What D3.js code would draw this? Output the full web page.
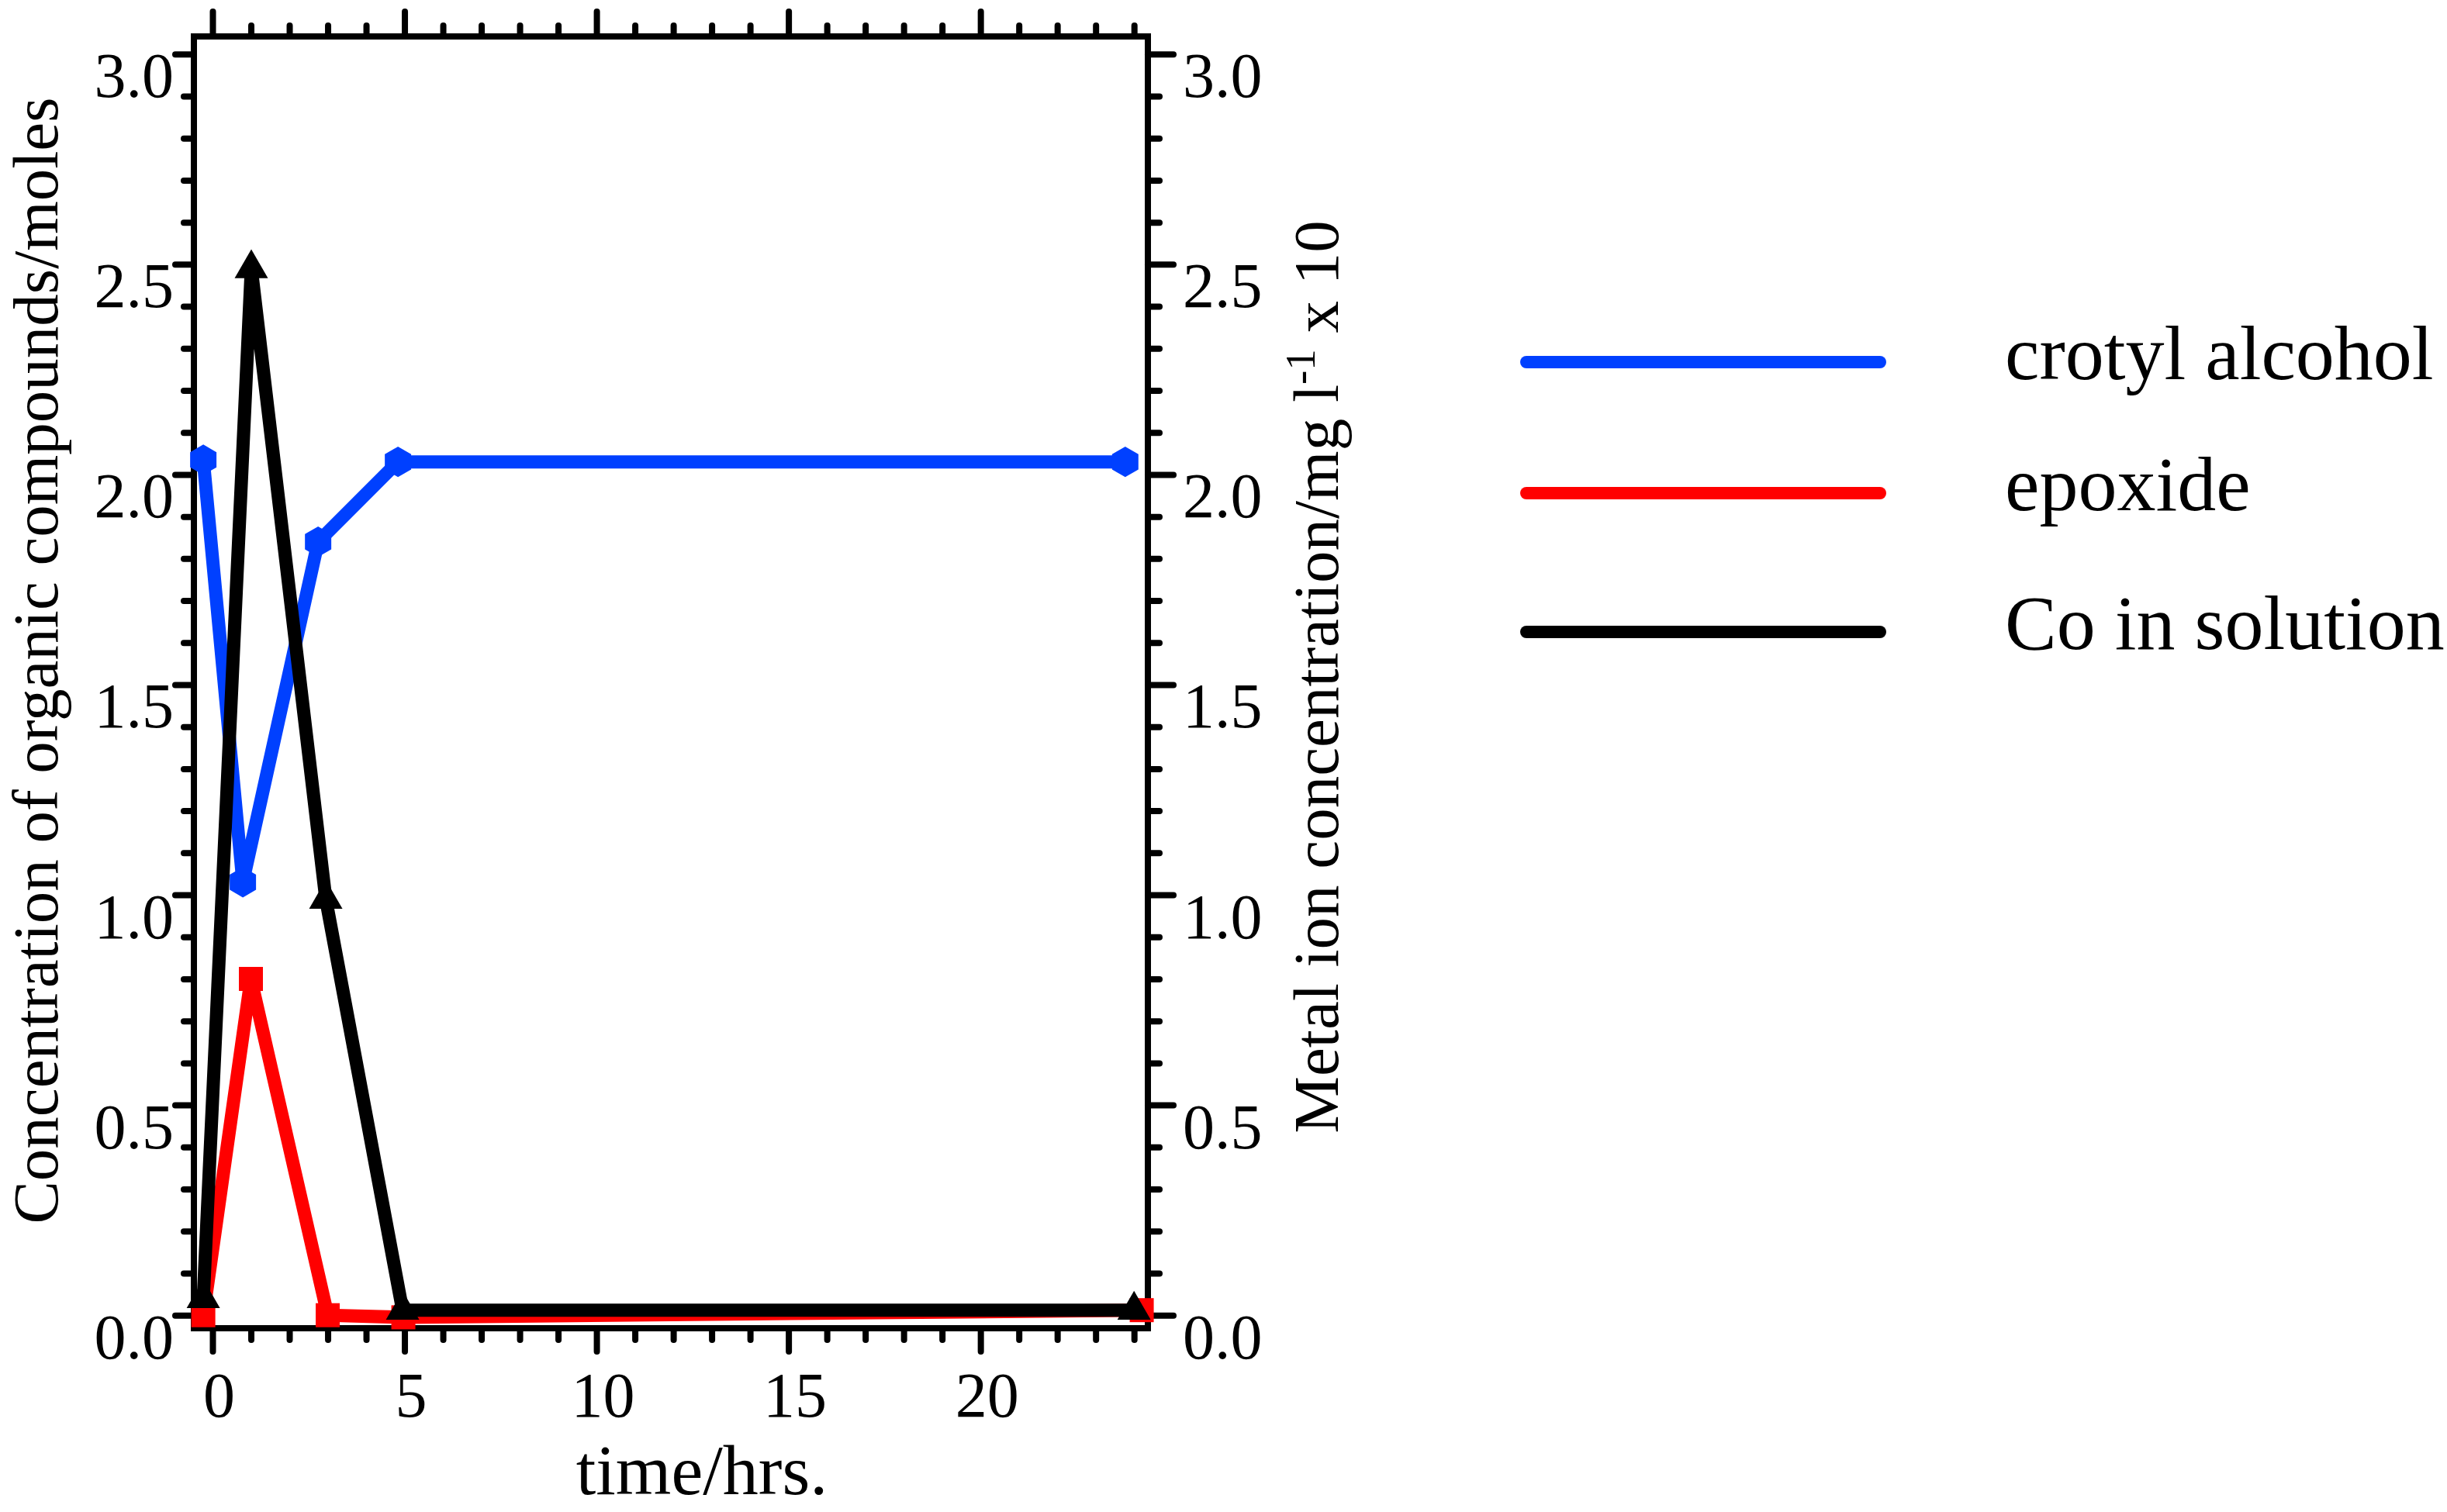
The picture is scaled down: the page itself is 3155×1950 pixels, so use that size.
<!DOCTYPE html>
<html>
<head>
<meta charset="utf-8">
<script src="https://cdn.jsdelivr.net/npm/d3@7"></script>
<style>
  body { margin: 0; background: #fff; }
  text { font-family: "Liberation Serif", "Times New Roman", serif; fill: #000; }
</style>
</head>
<body>
<div id="chart"></div>
<script>
// data
const seriesNames = ["crotyl alcohol", "epoxide", "Co in solution"];
const alcoholTime = [-0.24, 0.79, 2.75, 4.83, 23.77];
const alcoholConc = [2.035, 1.03, 1.84, 2.03, 2.03];
const epoxideTime = [-0.24, 1.0, 3.0, 4.97, 24.2];
const epoxideConc = [0.0, 0.80, 0.0, -0.005, 0.012];
const cobaltTime = [-0.24, 1.01, 2.95, 4.95, 24.0];
const cobaltConc = [0.04, 2.49, 0.99, 0.012, 0.012];
const xMajorTicks = [0, 5, 10, 15, 20];
const yMajorTicks = [0, 0.5, 1, 1.5, 2, 2.5, 3];

const W = 3155, H = 1950;
const plotLeft = 250, plotRight = 1480, plotTop = 47, plotBottom = 1713;

const svg = d3.select("#chart").append("svg")
  .attr("width", W).attr("height", H)
  .attr("viewBox", `0 0 ${W} ${H}`);
svg.append("rect").attr("width", W).attr("height", H).attr("fill", "#fff");

// scales
const x = d3.scaleLinear().domain([-0.485, 24.36]).range([plotLeft, plotRight]);
const y = d3.scaleLinear().domain([-0.031, 3.042]).range([plotBottom, plotTop]);
const yRight = d3.scaleLinear().domain([-0.031, 3.042]).range([plotBottom, plotTop]);

const xMinor = d3.range(0, 25, 1).filter(d => d % 5 !== 0);
const yMinor = d3.range(1, 30).map(d => d / 10).filter(d => Math.round(d * 10) % 5 !== 0);

function styleAxis(g) {
  g.select(".domain").remove();
  g.selectAll("line").attr("stroke", "#000").attr("stroke-width", 8).attr("stroke-linecap", "round");
  g.attr("font-family", "Liberation Serif, Times New Roman, serif").attr("font-size", 82);
}

// bottom axis
svg.append("g").attr("transform", `translate(0,${plotBottom})`)
  .call(d3.axisBottom(x).tickValues(xMajorTicks).tickSize(30).tickFormat(d3.format("d")))
  .call(styleAxis)
  .call(g => g.selectAll("text").attr("y", 114).attr("dy", 0).attr("dx", 8));
svg.append("g").attr("transform", `translate(0,${plotBottom})`)
  .call(d3.axisBottom(x).tickValues(xMinor).tickSize(15).tickFormat(""))
  .call(styleAxis);

// top axis
svg.append("g").attr("transform", `translate(0,${plotTop})`)
  .call(d3.axisTop(x).tickValues(xMajorTicks).tickSize(32).tickFormat(""))
  .call(styleAxis);
svg.append("g").attr("transform", `translate(0,${plotTop})`)
  .call(d3.axisTop(x).tickValues(xMinor).tickSize(14).tickFormat(""))
  .call(styleAxis);

// left axis
svg.append("g").attr("transform", `translate(${plotLeft},0)`)
  .call(d3.axisLeft(y).tickValues(yMajorTicks).tickSize(24).tickFormat(d3.format(".1f")))
  .call(styleAxis)
  .call(g => g.selectAll("text").attr("x", -26).attr("dy", 55));
svg.append("g").attr("transform", `translate(${plotLeft},0)`)
  .call(d3.axisLeft(y).tickValues(yMinor).tickSize(13).tickFormat(""))
  .call(styleAxis);

// right axis
svg.append("g").attr("transform", `translate(${plotRight},0)`)
  .call(d3.axisRight(yRight).tickValues(yMajorTicks).tickSize(33).tickFormat(d3.format(".1f")))
  .call(styleAxis)
  .call(g => g.selectAll("text").attr("x", 45).attr("dy", 55));
svg.append("g").attr("transform", `translate(${plotRight},0)`)
  .call(d3.axisRight(yRight).tickValues(yMinor).tickSize(15).tickFormat(""))
  .call(styleAxis);

// frame
svg.append("rect")
  .attr("x", plotLeft).attr("y", plotTop)
  .attr("width", plotRight - plotLeft).attr("height", plotBottom - plotTop)
  .attr("fill", "none").attr("stroke", "#000").attr("stroke-width", 8);

// series
const hexagon = {
  draw(ctx, size) {
    const r = Math.sqrt(size / 2.6);
    for (let i = 0; i < 6; i++) {
      const a = Math.PI / 6 + i * Math.PI / 3;
      if (i === 0) ctx.moveTo(r * Math.cos(a), r * Math.sin(a));
      else ctx.lineTo(r * Math.cos(a), r * Math.sin(a));
    }
    ctx.closePath();
  }
};

const series = [
  { name: seriesNames[0], t: alcoholTime, v: alcoholConc, scale: y, color: "#0040ff", symbol: hexagon, size: 1000 },
  { name: seriesNames[1], t: epoxideTime, v: epoxideConc, scale: y, color: "#ff0000", symbol: d3.symbolSquare, size: 960 },
  { name: seriesNames[2], t: cobaltTime, v: cobaltConc, scale: yRight, color: "#000000", symbol: d3.symbolTriangle, size: 800 }
];

const plot = svg.append("g");
series.forEach(s => {
  const pts = s.t.map((t, i) => [t, s.v[i]]);
  const line = d3.line().x(d => x(d[0])).y(d => s.scale(d[1]));
  plot.append("path")
    .attr("d", line(pts))
    .attr("fill", "none")
    .attr("stroke", s.color)
    .attr("stroke-width", 17)
    .attr("stroke-linejoin", "round")
    .attr("stroke-linecap", "round");
  plot.selectAll(null).data(pts).enter().append("path")
    .attr("transform", d => `translate(${x(d[0])},${s.scale(d[1])})`)
    .attr("d", d3.symbol().type(s.symbol).size(s.size))
    .attr("fill", s.color);
});

// legend
const legendY = [467, 636, 815];
const legend = svg.append("g");
series.forEach((s, i) => {
  legend.append("line")
    .attr("x1", 1968).attr("x2", 2424)
    .attr("y1", legendY[i]).attr("y2", legendY[i])
    .attr("stroke", s.color).attr("stroke-width", 16).attr("stroke-linecap", "round");
  legend.append("text")
    .attr("x", 2585).attr("y", legendY[i] + 22)
    .attr("font-size", 100)
    .text(s.name);
});

// axis titles
svg.append("text")
  .attr("x", 905).attr("y", 1927)
  .attr("text-anchor", "middle").attr("font-size", 92)
  .text("time/hrs.");

svg.append("text")
  .attr("transform", "translate(74,852) rotate(-90)")
  .attr("text-anchor", "middle").attr("font-size", 83)
  .text("Concentration of organic compounds/moles");

const rt = svg.append("text")
  .attr("transform", "translate(1725,873) rotate(-90)")
  .attr("text-anchor", "middle").attr("font-size", 83);
rt.append("tspan").text("Metal ion concentration/mg l");
rt.append("tspan").attr("dy", -30).attr("font-size", 55).text("-1");
rt.append("tspan").attr("dy", 30).text(" x 10");
</script>
</body>
</html>
